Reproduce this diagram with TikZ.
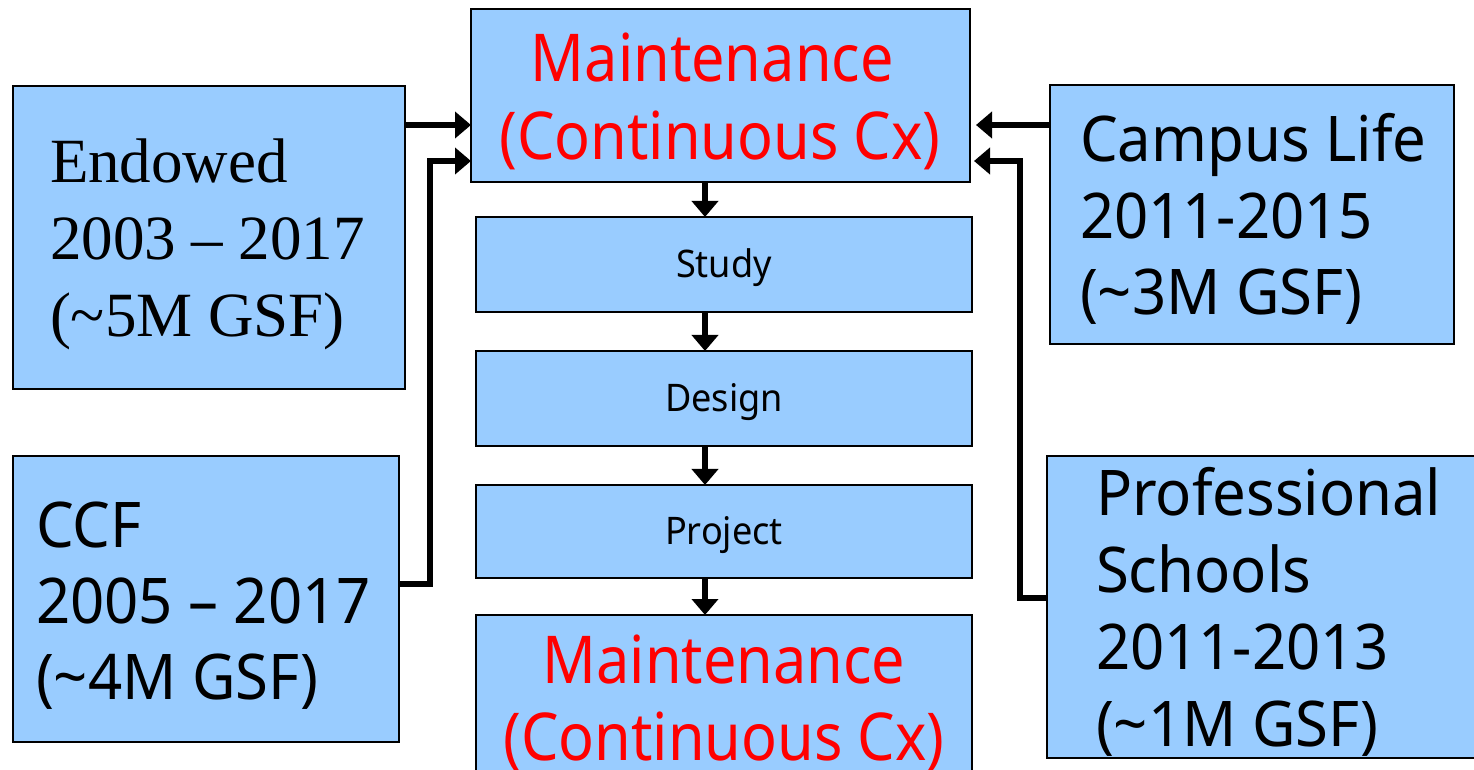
\documentclass[tikz,border=0pt]{standalone}
\usepackage{fontspec}
\setmainfont{Liberation Serif}
\setsansfont[FakeStretch=0.95]{Noto Sans}
\newfontfamily\redfamily[FakeStretch=0.9]{Noto Sans}
\usetikzlibrary{arrows.meta}
\definecolor{boxblue}{HTML}{99CCFF}
\definecolor{mred}{HTML}{FF0000}
\newcommand{\leftlines}[2]{\vtop{\baselineskip=#1\relax\lineskiplimit=-100pt\lineskip=0pt\halign{##\hfil\cr#2\crcr}}}
\newcommand{\centerlines}[2]{\vtop{\baselineskip=#1\relax\lineskiplimit=-100pt\lineskip=0pt\halign{\hfil##\hfil\cr#2\crcr}}}
\begin{document}
\begin{tikzpicture}[x=0.5pt,y=-0.5pt,
  box/.style={draw=black,line width=1.25pt,fill=boxblue,inner sep=0pt,outer sep=0pt,anchor=north west},
  lbl/.style={inner sep=0pt,outer sep=0pt},
  bigsans/.style={font=\sffamily\fontsize{31.5pt}{38.5pt}\selectfont},
  redsans/.style={font=\redfamily\fontsize{33pt}{39pt}\selectfont,text=mred},
  stepsans/.style={font=\sffamily\fontsize{19pt}{23pt}\selectfont},
  arr/.style={line width=3pt,-{Triangle[length=8pt,width=13pt]}}]
\useasboundingbox (0,0) rectangle (1474,770);
\clip (0,0) rectangle (1474,770);
% boxes
\node[box,minimum width=249.5pt,minimum height=86.5pt] (top) at (471,9) {};
\node[box,minimum width=248pt,minimum height=47.5pt] (study) at (476,217) {};
\node[box,minimum width=248pt,minimum height=47.5pt] (design) at (476,351) {};
\node[box,minimum width=248pt,minimum height=46.5pt] (project) at (476,485) {};
\node[box,minimum width=248pt,minimum height=83.5pt] (bottom) at (476,615) {};
\node[box,minimum width=196pt,minimum height=151.5pt] (endowed) at (13,86) {};
\node[box,minimum width=193pt,minimum height=143pt] (ccf) at (13,456) {};
\node[box,minimum width=202pt,minimum height=129.5pt] (campus) at (1050,85) {};
\node[box,minimum width=220pt,minimum height=151pt] (prof) at (1047,456) {};
% texts
\node[lbl,redsans,anchor=base] (toptext) at (720,82) {\centerlines{39pt}{Maintenance\ \cr (Continuous Cx)}};
\node[lbl,redsans,anchor=base] (bottomtext) at (724,683) {\centerlines{38.5pt}{Maintenance\cr (Continuous Cx)}};
\node[lbl,stepsans,anchor=base] (studytext) at (724,278) {Study};
\node[lbl,stepsans,anchor=base] (designtext) at (724,412) {Design};
\node[lbl,stepsans,anchor=base] (projecttext) at (724,545) {Project};
\node[lbl,anchor=base west,font=\rmfamily\fontsize{31.5pt}{38.5pt}\selectfont] (endowedtext) at (50,183)
  {\leftlines{38.5pt}{Endowed\cr 2003 – 2017\cr (\textasciitilde5M GSF)}};
\node[lbl,bigsans,anchor=base west] (ccftext) at (36,547)
  {\leftlines{38.25pt}{CCF\cr 2005 – 2017\cr (\textasciitilde4M GSF)}};
\node[lbl,bigsans,anchor=base west] (campustext) at (1080,162)
  {\leftlines{38.25pt}{Campus Life\cr 2011-2015\cr (\textasciitilde3M GSF)}};
\node[lbl,bigsans,anchor=base west] (proftext) at (1096,516)
  {\leftlines{38.5pt}{Professional\cr Schools\cr 2011-2013\cr (\textasciitilde1M GSF)}};
% helper coordinates
\coordinate (ax) at (705,0);
\coordinate (ya) at (0,125);
\coordinate (yb) at (0,161);
\coordinate (yc) at (0,584);
\coordinate (yd) at (0,598);
\coordinate (xl) at (430,0);
\coordinate (xr) at (1020,0);
% connectors
\draw[arr] (top.south -| ax) -- (study.north -| ax);
\draw[arr] (study.south -| ax) -- (design.north -| ax);
\draw[arr] (design.south -| ax) -- (project.north -| ax);
\draw[arr] (project.south -| ax) -- (bottom.north -| ax);
\draw[arr] (endowed.east |- ya) -- (top.west |- ya);
\draw[arr] (ccf.east |- yc) -| (xl |- yb) -- (top.west |- yb);
\draw[arr,shorten >=3pt] (campus.west |- ya) -- (top.east |- ya);
\draw[arr,shorten >=2pt] (prof.west |- yd) -| (xr |- yb) -- (top.east |- yb);
\end{tikzpicture}
\end{document}
